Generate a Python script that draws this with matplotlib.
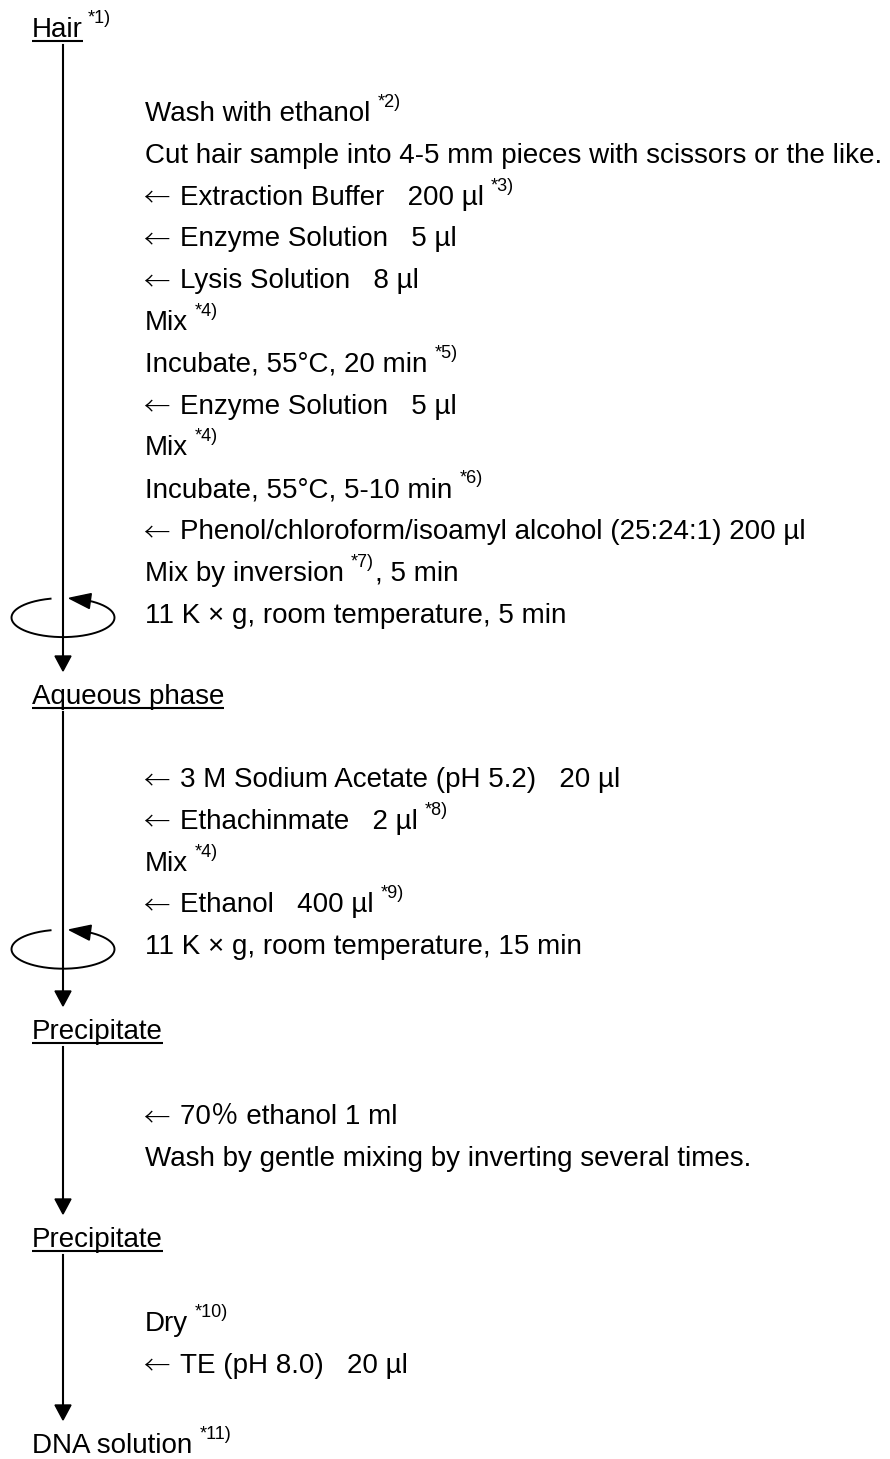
import numpy as np
import matplotlib
matplotlib.use("Agg")
import matplotlib.pyplot as plt
from matplotlib.patches import Polygon

# flow chart content; "^" toggles superscript footnote marks
headings = ["Hair^*1)", "Aqueous phase", "Precipitate", "Precipitate", "DNA solution ^*11)"]
underlined = [True, True, True, True, False]

block1 = [
    "Wash with ethanol ^*2)",
    "Cut hair sample into 4-5 mm pieces with scissors or the like.",
    "\u2190 Extraction Buffer   200 \u00b5l ^*3)",
    "\u2190 Enzyme Solution   5 \u00b5l",
    "\u2190 Lysis Solution   8 \u00b5l",
    "Mix ^*4)",
    "Incubate, 55\u00b0C, 20 min ^*5)",
    "\u2190 Enzyme Solution   5 \u00b5l",
    "Mix ^*4)",
    "Incubate, 55\u00b0C, 5-10 min ^*6)",
    "\u2190 Phenol/chloroform/isoamyl alcohol (25:24:1) 200 \u00b5l",
    "Mix by inversion ^*7)^, 5 min",
    "11 K \u00d7 g, room temperature, 5 min",
]
block2 = [
    "\u2190 3 M Sodium Acetate (pH 5.2)   20 \u00b5l",
    "\u2190 Ethachinmate   2 \u00b5l ^*8)",
    "Mix ^*4)",
    "\u2190 Ethanol   400 \u00b5l ^*9)",
    "11 K \u00d7 g, room temperature, 15 min",
]
block3 = [
    "\u2190 70\uff05 ethanol 1 ml",
    "Wash by gentle mixing by inverting several times.",
]
block4 = [
    "Dry ^*10)",
    "\u2190 TE (pH 8.0)   20 \u00b5l",
]
blocks = [block1, block2, block3, block4]
centrifuged = [True, True, False, False]

# layout (pixels)
heading_y = [37, 704, 1039, 1247, 1453]
block_first_y = [121, 787, 1124, 1331]
step = 41.8
x_head, x_step, x_line = 32, 145, 63
FS, FS_SUP = 20, 13
FAM = ["Liberation Sans", "Noto Sans CJK JP", "DejaVu Sans"]

fig = plt.figure(figsize=(8.9, 14.59), dpi=100)
ax = fig.add_axes([0, 0, 1, 1])
ax.set_xlim(0, 890)
ax.set_ylim(1459, 0)
ax.axis("off")
renderer = fig.canvas.get_renderer()
inv = ax.transData.inverted()


def right_edge(t):
    bb = t.get_window_extent(renderer)
    return inv.transform((bb.x1, bb.y0))[0]


def draw_line_text(x, y, s, underline=False):
    if s.startswith("\u2190"):
        ax.text(x - 2, y + 2, "\u2190", fontsize=FS * 0.95, family=["Noto Sans CJK JP"],
                fontweight="light", va="baseline", ha="left", color="black")
        x += 35
        s = s[1:].lstrip()
    parts = s.split("^")
    for i, p in enumerate(parts):
        if p == "":
            continue
        sup = i % 2 == 1
        gap = 0
        if p.endswith(" "):
            p = p.rstrip()
            gap = 7
        t = ax.text(x, y - (14 if sup else 0), p, fontsize=FS_SUP if sup else FS,
                    family=FAM, va="baseline", ha="left", color="black")
        x_end = right_edge(t)
        if underline and not sup:
            ax.plot([x, x_end], [y + 4, y + 4], color="black", lw=1.5,
                    solid_capstyle="butt")
        x = x_end + gap + (1 if sup else 0)
        if not sup and i + 1 < len(parts) and gap == 0:
            x += 5


def down_arrow(y0, y1):
    ax.plot([x_line, x_line], [y0, y1 - 12], color="black", lw=1.5)
    ax.add_patch(Polygon([[x_line - 8, y1 - 15], [x_line + 8, y1 - 15], [x_line, y1]],
                         closed=True, color="black"))


def centrifuge(yc):
    rx, ry = 51.5, 19.5
    t = np.radians(np.linspace(104, 360 + 60, 300))
    ax.plot(x_line + rx * np.cos(t), yc - ry * np.sin(t), color="black", lw=1.4)
    tb, tt = np.radians(58), np.radians(83)
    base = np.array([x_line + rx * np.cos(tb), yc - ry * np.sin(tb)])
    tip = np.array([x_line + rx * np.cos(tt), yc - ry * np.sin(tt)])
    d = tip - base
    n = np.array([-d[1], d[0]]) / np.hypot(*d)
    ax.add_patch(Polygon([tip, base + 7.5 * n, base - 7.5 * n], closed=True, color="black"))


for s, y, u in zip(headings, heading_y, underlined):
    draw_line_text(x_head, y, s, underline=u)

for i, blk in enumerate(blocks):
    y0 = block_first_y[i]
    for k, s in enumerate(blk):
        draw_line_text(x_step, y0 + k * step, s)
    down_arrow(heading_y[i] + 8, heading_y[i + 1] - 33)
    if centrifuged[i]:
        centrifuge(y0 + (len(blk) - 1) * step - 5)

fig.savefig("out.png", dpi=100)
